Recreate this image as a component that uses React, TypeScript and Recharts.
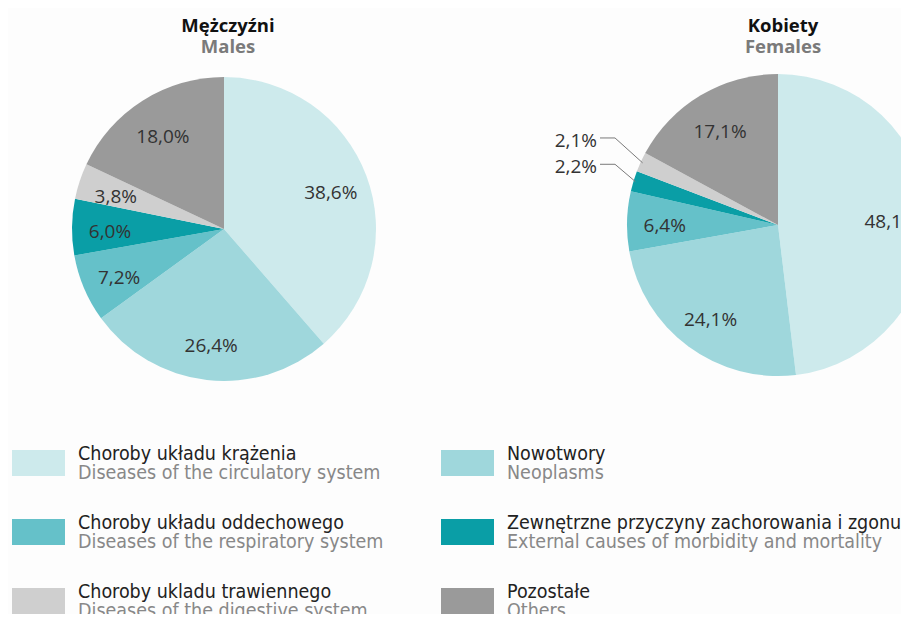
import { PieChart, Pie, Cell } from "recharts";

const categoriesPl = [
  "Choroby układu krążenia",
  "Nowotwory",
  "Choroby układu oddechowego",
  "Zewnętrzne przyczyny zachorowania i zgonu",
  "Choroby ukladu trawiennego",
  "Pozostałe",
];

const categoriesEn = [
  "Diseases of the circulatory system",
  "Neoplasms",
  "Diseases of the respiratory system",
  "External causes of morbidity and mortality",
  "Diseases of the digestive system",
  "Others",
];

const colors = ["#cdeaec", "#9fd7dc", "#65c1c9", "#0a9ea6", "#cfcfcf", "#9a9a9a"];

const malesValues = [38.6, 26.4, 7.2, 6.0, 3.8, 18.0];
const femalesValues = [48.1, 24.1, 6.4, 2.2, 2.1, 17.1];

const RAD = Math.PI / 180;
const labelFont = "'Open Sans', 'Noto Sans', sans-serif";
const legendFont = "'Liberation Sans Narrow', 'DejaVu Sans Condensed', 'Open Sans', sans-serif";

const fmt = (v: number) => v.toFixed(1).replace(".", ",") + "%";

function renderLabel(props: any) {
  const { cx, cy, midAngle, outerRadius, value, percent } = props;
  const cos = Math.cos(-midAngle * RAD);
  const sin = Math.sin(-midAngle * RAD);

  // tiny slices get an outside label with a leader line
  if (percent < 0.03) {
    const ex = cx + (outerRadius - 2) * cos;
    const ey = cy + (outerRadius - 2) * sin;
    const bx = cx - outerRadius - 12;
    const by = cy + (ey - cy) * 1.4;
    return (
      <g>
        <polyline
          points={`${ex},${ey} ${bx},${by} ${bx - 15},${by}`}
          fill="none"
          stroke="#7a7a7a"
          strokeWidth={1}
        />
        <text
          x={bx - 18}
          y={by + 2}
          textAnchor="end"
          dominantBaseline="central"
          fontFamily={labelFont}
          fontSize={19}
          fill="#333"
        >
          {fmt(value)}
        </text>
      </g>
    );
  }

  const r = outerRadius * 0.75;
  return (
    <text
      x={cx + r * cos}
      y={cy + r * sin + 3}
      textAnchor="middle"
      dominantBaseline="central"
      fontFamily={labelFont}
      fontSize={19}
      fill="#333"
    >
      {fmt(value)}
    </text>
  );
}

function Title({ pl, en, x }: { pl: string; en: string; x: number }) {
  return (
    <div
      style={{
        position: "absolute",
        left: x - 100,
        top: 14,
        width: 200,
        textAlign: "center",
        fontFamily: labelFont,
        fontWeight: 700,
        fontSize: 18.5,
        lineHeight: "21px",
      }}
    >
      <div style={{ color: "#111" }}>{pl}</div>
      <div style={{ color: "#7a7a7a" }}>{en}</div>
    </div>
  );
}

export default function App() {
  const males = categoriesPl.map((name, i) => ({ name, value: malesValues[i] }));
  const females = categoriesPl.map((name, i) => ({ name, value: femalesValues[i] }));

  return (
    <div
      style={{
        position: "relative",
        width: 909,
        height: 622,
        margin: -8,
        background: "#fdfdfd",
        overflow: "hidden",
      }}
    >
      <PieChart width={909} height={622} margin={{ top: 0, right: 0, bottom: 0, left: 0 }}>
        <Pie
          data={males}
          dataKey="value"
          nameKey="name"
          cx={224}
          cy={229}
          outerRadius={152}
          startAngle={90}
          endAngle={-270}
          stroke="none"
          label={renderLabel}
          labelLine={false}
          isAnimationActive={false}
        >
          {males.map((entry, index) => (
            <Cell key={`m-${index}`} fill={colors[index]} />
          ))}
        </Pie>
        <Pie
          data={females}
          dataKey="value"
          nameKey="name"
          cx={778}
          cy={225}
          outerRadius={151}
          startAngle={90}
          endAngle={-270}
          stroke="none"
          label={renderLabel}
          labelLine={false}
          isAnimationActive={false}
        >
          {females.map((entry, index) => (
            <Cell key={`f-${index}`} fill={colors[index]} />
          ))}
        </Pie>
      </PieChart>

      <Title pl="Mężczyźni" en="Males" x={228} />
      <Title pl="Kobiety" en="Females" x={783} />

      {categoriesPl.map((name, i) => {
        const col = i % 2;
        const row = Math.floor(i / 2);
        const left = col === 0 ? 12 : 441;
        const top = 450 + row * 69;
        return (
          <div key={name} style={{ position: "absolute", left, top, width: 470 }}>
            <div
              style={{
                position: "absolute",
                left: 0,
                top: 0,
                width: 53,
                height: 26,
                background: colors[i],
              }}
            />
            <div
              style={{
                position: "absolute",
                left: 66,
                top: -6,
                whiteSpace: "nowrap",
                fontFamily: legendFont,
                fontSize: 19.5,
                lineHeight: "19px",
              }}
            >
              <div style={{ color: "#222" }}>{name}</div>
              <div style={{ color: "#888" }}>{categoriesEn[i]}</div>
            </div>
          </div>
        );
      })}
    </div>
  );
}
